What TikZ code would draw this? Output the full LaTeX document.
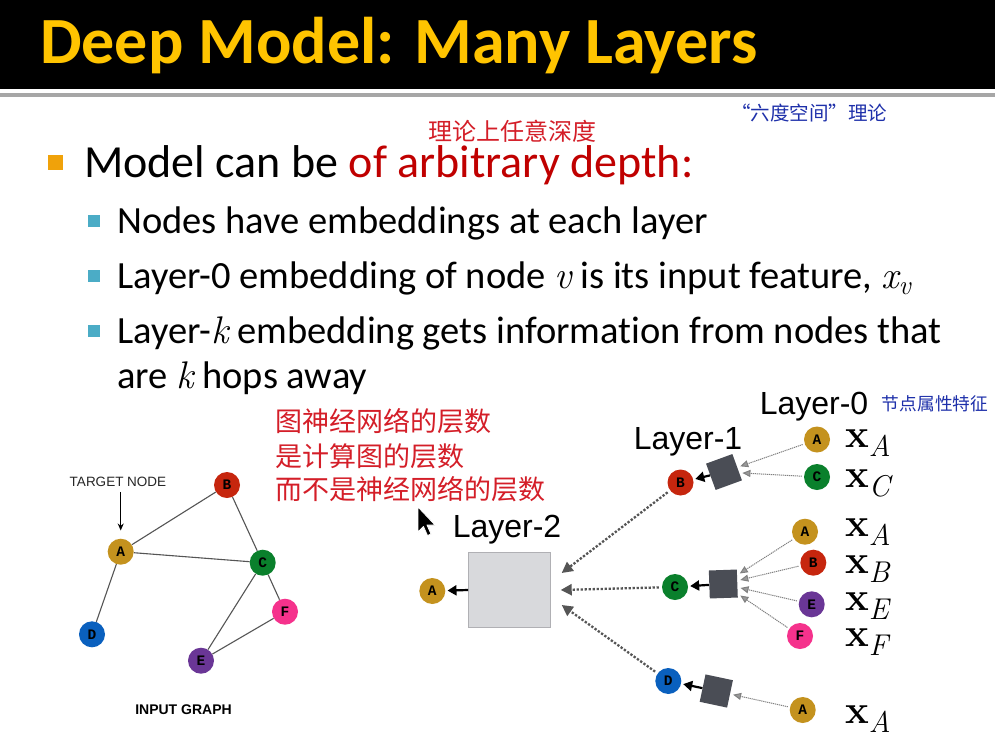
\documentclass[tikz,border=0pt]{standalone}
\usepackage{fontspec}
\setmainfont{Carlito}[Ligatures=NoCommon]
\newfontfamily\helv{Liberation Sans}
\newfontfamily\cour{Liberation Mono}
\newfontfamily\cjk{Noto Sans CJK SC}
\newfontfamily\lmr{Latin Modern Roman}
\usetikzlibrary{arrows.meta}
\newcommand\mi[1]{{\lmr\itshape #1}}
\newcommand\xsub[1]{{\fontsize{40}{40}\selectfont\lmr\bfseries x}\raisebox{-9pt}{\fontsize{30}{30}\selectfont\lmr\itshape #1}}
\newcommand\xvsub{{\lmr\itshape x}\raisebox{-6pt}{\fontsize{27}{27}\selectfont\lmr\itshape v}}
\definecolor{titleyellow}{RGB}{255,196,0}
\definecolor{darkred}{RGB}{192,0,0}
\definecolor{bulletorange}{RGB}{240,162,10}
\definecolor{bulletteal}{RGB}{75,172,198}
\definecolor{hwred}{RGB}{212,30,40}
\definecolor{hwblue}{RGB}{30,48,170}
\definecolor{nA}{RGB}{196,146,30}
\definecolor{nB}{RGB}{198,38,14}
\definecolor{nC}{RGB}{10,128,44}
\definecolor{nD}{RGB}{10,96,190}
\definecolor{nE}{RGB}{106,54,150}
\definecolor{nF}{RGB}{245,50,140}
\definecolor{boxdark}{RGB}{74,77,85}
\definecolor{boxlight}{RGB}{216,217,220}
\definecolor{boxedge}{RGB}{176,176,180}
\definecolor{edgegray}{RGB}{85,85,85}
\tikzset{
  gnode/.style={circle, minimum size=26pt, inner sep=0pt, font=\cour\bfseries\fontsize{14.5}{14}\selectfont, text=black},
  txt/.style={anchor=base west, inner sep=0pt, text=black},
  bsq/.style={rectangle, minimum size=#1, inner sep=0pt},
  hwr/.style={anchor=west, inner sep=0pt, text=hwred, font=\cjk\fontsize{27}{28}\selectfont},
  layerlbl/.style={anchor=base, inner sep=0pt, font=\helv\fontsize{32}{32}\selectfont},
  xlbl/.style={anchor=base west, inner sep=0pt, text height=18pt, text depth=10pt},
  sbox/.style={rectangle, fill=boxdark, minimum size=28pt, inner sep=0pt},
  gedge/.style={draw=edgegray, line width=1.1pt},
  bigdot/.style={draw=edgegray, line width=2.3pt, dash pattern=on 2.3pt off 1.7pt, -{Triangle[length=11pt,width=11pt]}, shorten <=3pt},
  thindot/.style={draw=gray, line width=1pt, dash pattern=on 1.2pt off 0.8pt, -{Triangle[length=8pt,width=7pt,fill=gray!80]}, shorten <=2pt, shorten >=3pt},
  blkarrow/.style={draw=black, line width=2.2pt, -{Triangle[length=9pt,width=10pt]}, shorten <=0pt, shorten >=2pt},
}
\begin{document}
\begin{tikzpicture}[x=1pt,y=-1pt]
\useasboundingbox (0,0) rectangle (995,739);
\fill[white] (0,0) rectangle (995,739);
% title band
\fill[black] (0,0) rectangle (995,89);
\fill[gray!70] (0,93) rectangle (995,97);
\node[txt, text=titleyellow, font=\fontsize{66}{70}\selectfont\bfseries] (title) at (40,63) {Deep Model: Many Layers};
% bullets
\node[bsq=15pt, fill=bulletorange] (sq1) at (55.5,162.5) {};
\node[txt, font=\fontsize{46}{50}\selectfont] (b1) at (84,177) {Model can be \textcolor{darkred}{of arbitrary depth:}};
\node[bsq=12pt, fill=bulletteal] (sq2) at (94,221) {};
\node[txt, font=\fontsize{38.5}{44}\selectfont] (b2) at (117,233) {Nodes have embeddings at each layer};
\node[bsq=12pt, fill=bulletteal] (sq3) at (94,276) {};
\node[txt, font=\fontsize{38.5}{44}\selectfont] (b3) at (117,288) {Layer-0 embedding of node \mi{v} is its input feature, \xvsub};
\node[bsq=12pt, fill=bulletteal] (sq4) at (94,331) {};
\node[txt, font=\fontsize{38.5}{44}\selectfont] (b4) at (117,343) {Layer-\mi{k} embedding gets information from nodes that};
\node[txt, font=\fontsize{38.5}{44}\selectfont] (b5) at (117,388) {are \mi{k} hops away};
% handwritten notes
\node[anchor=center, inner sep=0pt, text=hwred, font=\cjk\fontsize{24}{24}\selectfont] (n1) at (512,131) {理论上任意深度};
\node[anchor=center, inner sep=0pt, text=hwblue, font=\cjk\fontsize{19.5}{20}\selectfont] (n2) at (809,113) {“六度空间”理论};
\node[hwr] (n3) at (275,421) {图神经网络的层数};
\node[hwr] (n4) at (275,456) {是计算图的层数};
\node[hwr] (n5) at (275,489) {而不是神经网络的层数};
\node[anchor=center, inner sep=0pt, text=hwblue, font=\cjk\fontsize{17.7}{18}\selectfont] (n6) at (935,404) {节点属性特征};
% input graph
\node[inner sep=0pt, font=\helv\fontsize{13.5}{14}\selectfont, text=black!85] (target) at (118,482) {TARGET NODE};
\node[gnode, fill=nA] (A) at (120.7,551.7) {A};
\node[gnode, fill=nB] (B) at (227,485) {B};
\node[gnode, fill=nC] (C) at (262.7,562.7) {C};
\node[gnode, fill=nF] (F) at (285,611.7) {F};
\node[gnode, fill=nE] (E) at (201,660.7) {E};
\node[gnode, fill=nD] (D) at (92,634.3) {D};
\node[inner sep=0pt, font=\helv\bfseries\fontsize{14}{14}\selectfont] (ig) at (183.5,710) {INPUT GRAPH};
\draw[gedge] (A) -- (B);
\draw[gedge] (A) -- (C);
\draw[gedge] (B) -- (C);
\draw[gedge] (A) -- (D);
\draw[gedge] (C) -- (E);
\draw[gedge] (C) -- (F);
\draw[gedge] (E) -- (F);
\draw[black, line width=1.2pt, -{Stealth[length=7pt,width=6pt]}, shorten <=5pt, shorten >=8pt] (target.south -| A.north) -- (A.north);
% computation graph
\node[layerlbl] (lay2) at (507,537) {Layer-2};
\node[layerlbl] (lay1) at (688,449) {Layer-1};
\node[layerlbl] (lay0) at (814,414) {Layer-0};
\node[rectangle, fill=boxlight, draw=boxedge, line width=0.8pt, minimum width=82pt, minimum height=75pt, inner sep=0pt] (big) at (509.5,590) {};
\node[gnode, fill=nA] (LA) at (432.3,591) {A};
% layer-1 nodes
\node[gnode, fill=nB] (L1B) at (680.5,482.5) {B};
\node[gnode, fill=nC] (L1C) at (675,587) {C};
\node[gnode, fill=nD] (L1D) at (668.3,681) {D};
% small boxes
\node[sbox, rotate=20] (boxB) at (724,472) {};
\node[sbox, rotate=2] (boxC) at (723.3,584) {};
\node[sbox, rotate=-12] (boxD) at (716.3,691) {};
% layer-0 nodes
\node[gnode, fill=nA] (P1A) at (817,439.5) {A};
\node[gnode, fill=nC] (P1C) at (817,477) {C};
\node[gnode, fill=nA] (P2A) at (805,531.7) {A};
\node[gnode, fill=nB] (P2B) at (813.3,562.7) {B};
\node[gnode, fill=nE] (P2E) at (811.7,604.3) {E};
\node[gnode, fill=nF] (P2F) at (800,636) {F};
\node[gnode, fill=nA] (P3A) at (802.7,710) {A};
% feature labels
\node[xlbl] (x1) at (845,447) {\xsub{A}};
\node[xlbl] (x2) at (845,487) {\xsub{C}};
\node[xlbl] (x3) at (845,536) {\xsub{A}};
\node[xlbl] (x4) at (845,573) {\xsub{B}};
\node[xlbl] (x5) at (845,610) {\xsub{E}};
\node[xlbl] (x6) at (845,646) {\xsub{F}};
\node[xlbl] (x7) at (845,723) {\xsub{A}};
% arrows layer-1 -> layer-2 box
\coordinate (t1) at (561.7,573);
\coordinate (t2) at (560.7,590);
\coordinate (t3) at (561.7,605);
\draw[bigdot] (L1B) -- (t1);
\draw[bigdot] (L1C) -- (t2);
\draw[bigdot] (L1D) -- (t3);
\draw[blkarrow] (big.west) -- (LA);
% arrows layer-0 -> small boxes
\draw[thindot] (P1A) -- (boxB);
\draw[thindot] (P1C) -- (boxB);
\draw[thindot] (P2A) -- (boxC);
\draw[thindot] (P2B) -- (boxC);
\draw[thindot] (P2E) -- (boxC);
\draw[thindot] (P2F) -- (boxC);
\draw[thindot] (P3A) -- (boxD);
\draw[blkarrow] (boxB) -- (L1B);
\draw[blkarrow] (boxC) -- (L1C);
\draw[blkarrow] (boxD) -- (L1D);
% mouse cursor
\filldraw[fill=black, draw=white, line width=0.8pt, line join=round]
  (418,507) -- (418,532) -- (423.5,526.5) -- (427.5,535.5) -- (431,534) -- (427,525) -- (435,525) -- cycle;
\end{tikzpicture}
\end{document}
